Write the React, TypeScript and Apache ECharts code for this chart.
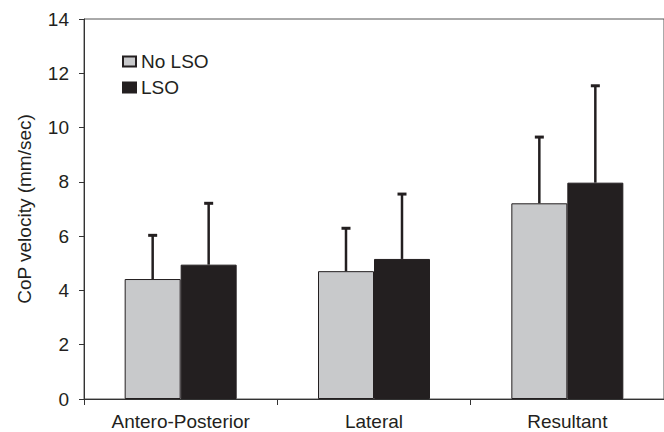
import React, { useEffect, useRef } from "react";
import * as echarts from "echarts";

const categories = ["Antero-Posterior", "Lateral", "Resultant"];
const seriesNames = ["No LSO", "LSO"];
const noLsoMean = [4.42, 4.71, 7.21];
const lsoMean = [4.95, 5.16, 7.97];
const noLsoSD = [1.61, 1.58, 2.44];
const lsoSD = [2.26, 2.39, 3.57];
const yTicks = { min: 0, max: 14, interval: 2 };

const BAR_W = 56;
const FONT = "'Liberation Sans', Arial, Helvetica, sans-serif";
const INK = "#231f20";

function errData(mean: number[], sd: number[]) {
  return mean.map((m, i) => [i, m, m + sd[i]]);
}

function makeErr(offset: number) {
  return (params: any, api: any) => {
    const base = api.coord([api.value(0), api.value(1)]);
    const top = api.coord([api.value(0), api.value(2)]);
    const x = base[0] + offset;
    return {
      type: "group",
      children: [
        {
          type: "line",
          shape: { x1: x, y1: base[1], x2: x, y2: top[1] },
          style: { stroke: INK, lineWidth: 2.5 },
        },
        {
          type: "line",
          shape: { x1: x - 4.5, y1: top[1], x2: x + 4.5, y2: top[1] },
          style: { stroke: INK, lineWidth: 3 },
        },
      ],
    };
  };
}

export default function App() {
  const ref = useRef<HTMLDivElement>(null);
  useEffect(() => {
    document.body.style.margin = "0";
    const chart = echarts.init(ref.current!, null, { renderer: "svg" });
    chart.setOption({
      animation: false,
      backgroundColor: "#ffffff",
      textStyle: { fontFamily: FONT, color: INK },
      grid: {
        left: 84,
        right: -7,
        top: 19,
        bottom: 33,
        show: true,
        borderColor: "#555555",
        borderWidth: 1,
        backgroundColor: "transparent",
      },
      legend: {
        data: seriesNames,
        orient: "vertical",
        left: 122,
        top: 52,
        padding: 0,
        itemWidth: 13,
        itemHeight: 10,
        itemGap: 7,
        textStyle: { fontSize: 19, color: INK, fontFamily: FONT, padding: [0, 0, 0, 0] },
        icon: "rect",
      },
      xAxis: {
        type: "category",
        data: categories,
        axisLine: { lineStyle: { color: "#333333", width: 1 } },
        axisTick: { show: true, length: 6, lineStyle: { color: "#333333" } },
        axisLabel: { fontSize: 19, color: INK, margin: 13, fontFamily: FONT },
      },
      yAxis: {
        type: "value",
        min: yTicks.min,
        max: yTicks.max,
        interval: yTicks.interval,
        name: "CoP velocity (mm/sec)",
        nameLocation: "middle",
        nameGap: 50,
        nameTextStyle: { fontSize: 19, color: INK, fontFamily: FONT },
        axisLine: { show: true, lineStyle: { color: "#333333", width: 1 } },
        axisTick: { show: true, length: 5, lineStyle: { color: "#333333" } },
        axisLabel: { fontSize: 19, color: INK, margin: 15, fontFamily: FONT },
        splitLine: { show: false },
      },
      series: [
        {
          name: seriesNames[0],
          type: "bar",
          data: noLsoMean,
          barWidth: BAR_W,
          barGap: "0%",
          itemStyle: { color: "#c8c9cb", borderColor: INK, borderWidth: 1 },
        },
        {
          name: seriesNames[1],
          type: "bar",
          data: lsoMean,
          barWidth: BAR_W,
          barGap: "0%",
          itemStyle: { color: INK, borderColor: INK, borderWidth: 1 },
        },
        {
          name: "err-no",
          type: "custom",
          data: errData(noLsoMean, noLsoSD),
          encode: { x: 0, y: [1, 2] },
          renderItem: makeErr(-BAR_W / 2),
          z: 5,
        },
        {
          name: "err-lso",
          type: "custom",
          data: errData(lsoMean, lsoSD),
          encode: { x: 0, y: [1, 2] },
          renderItem: makeErr(BAR_W / 2),
          z: 5,
        },
      ],
    });
    return () => chart.dispose();
  }, []);
  return (
    <div
      ref={ref}
      style={{ position: "absolute", left: 0, top: 0, width: 664, height: 432 }}
    />
  );
}
